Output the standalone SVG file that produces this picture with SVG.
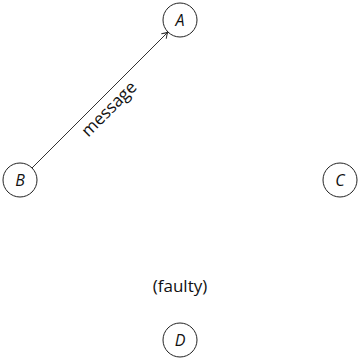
<svg xmlns="http://www.w3.org/2000/svg" width="360" height="360" viewBox="0 0 360 360">
<style>
.n{fill:#fff;stroke:#222;stroke-width:1}
.l{font-family:"Open Sans","DejaVu Sans",sans-serif;font-style:italic;font-size:16px;fill:#111;text-anchor:middle}
.t{font-family:"Open Sans","DejaVu Sans",sans-serif;font-size:17px;fill:#111;text-anchor:middle}
.e{stroke:#333;stroke-width:1;fill:none}
</style>
<defs>
<marker id="ar" markerWidth="10" markerHeight="10" refX="8" refY="5" orient="auto" markerUnits="userSpaceOnUse">
<path d="M2,1.5 Q5,4 8,5 Q5,6 2,8.5" fill="none" stroke="#333" stroke-width="1"/>
</marker>
</defs>
<g id="connectors">
<line class="e" x1="32" y1="168" x2="168" y2="32" marker-end="url(#ar)"/>
<text class="t" font-size="16" transform="translate(113,113) rotate(-45)">message</text>
</g>
<g id="A"><circle class="n" cx="180" cy="20" r="17"/><text class="l" x="180" y="26">A</text></g>
<g id="B"><circle class="n" cx="20" cy="180" r="17"/><text class="l" x="20" y="186">B</text></g>
<g id="C"><circle class="n" cx="340" cy="180" r="17"/><text class="l" x="340" y="186">C</text></g>
<g id="D"><circle class="n" cx="180" cy="340" r="17"/><text class="l" x="180" y="346">D</text></g>
<text class="t" x="180" y="292">(faulty)</text>
</svg>
